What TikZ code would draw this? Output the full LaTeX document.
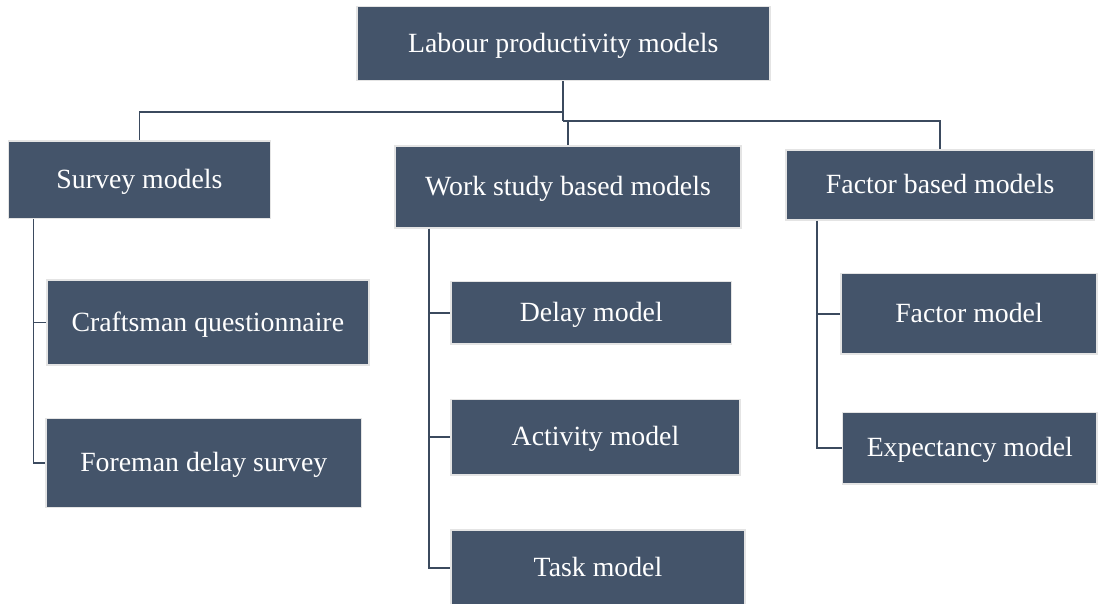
\documentclass[tikz,border=0pt]{standalone}
\usepackage{fontspec}
\setmainfont{Liberation Serif}
\definecolor{boxfill}{HTML}{44546A}
\definecolor{boxedge}{HTML}{E4E4E4}
\definecolor{linkcol}{HTML}{3B4A5E}
\tikzset{
  box/.style={rectangle, fill=boxfill, draw=boxedge, line width=1.5pt, text=white,
    inner sep=0pt, text height=21pt, text depth=4pt, font=\fontsize{27.8}{33}\selectfont},
  link/.style={draw=linkcol, line width=1.9pt}
}
\begin{document}
\begin{tikzpicture}[x=1pt,y=-1pt]
\useasboundingbox (0,0) rectangle (1100,603);
% junctions
\coordinate (j1) at (563.3,112);
\coordinate (j2) at (563.3,121.3);
% level 0
\node[box, minimum width=413pt, minimum height=74pt] (top) at (563.3,43.7) {Labour productivity models};
% level 1
\node[box, minimum width=262pt, minimum height=77.5pt] (survey) at (139.5,179.5) {Survey models};
\node[box, minimum width=346pt, minimum height=82pt] (ws) at (568,187.2) {Work study based models};
\node[box, minimum width=308pt, minimum height=70pt] (fb) at (940.2,185) {Factor based models};
% level 2
\node[box, minimum width=322pt, minimum height=85pt] (craft) at (207.8,322.5) {Craftsman questionnaire};
\node[box, minimum width=315.5pt, minimum height=89pt] (fore) at (203.8,463) {Foreman delay survey};
\node[box, minimum width=280.5pt, minimum height=62.5pt] (delay) at (591.3,312.8) {Delay model};
\node[box, minimum width=289pt, minimum height=75.5pt] (act) at (595.5,437.2) {Activity model};
\node[box, minimum width=294pt, minimum height=75.5pt] (task) at (598,567.7) {Task model};
\node[box, minimum width=256pt, minimum height=80.5pt] (fm) at (969,313.7) {Factor model};
\node[box, minimum width=254.5pt, minimum height=71.5pt] (em) at (969.8,448.3) {Expectancy model};
% top connectors
\draw[link] (top.south) -- (j2);
\draw[link] (j1) -| (survey.north);
\draw[link] (j2) -| (ws.north);
\draw[link] (j2) -| (fb.north);
% survey children
\coordinate (sv) at ([xshift=25.7pt]survey.south west);
\draw[link] (sv) |- (craft.west);
\draw[link] (sv) |- (fore.west);
% work study children
\coordinate (wv) at ([xshift=34.7pt]ws.south west);
\draw[link] (wv) |- (delay.west);
\draw[link] (wv) |- (act.west);
\draw[link] (wv) |- (task.west);
% factor based children
\coordinate (fv) at ([xshift=31.5pt]fb.south west);
\draw[link] (fv) |- (fm.west);
\draw[link] (fv) |- (em.west);
\end{tikzpicture}
\end{document}
